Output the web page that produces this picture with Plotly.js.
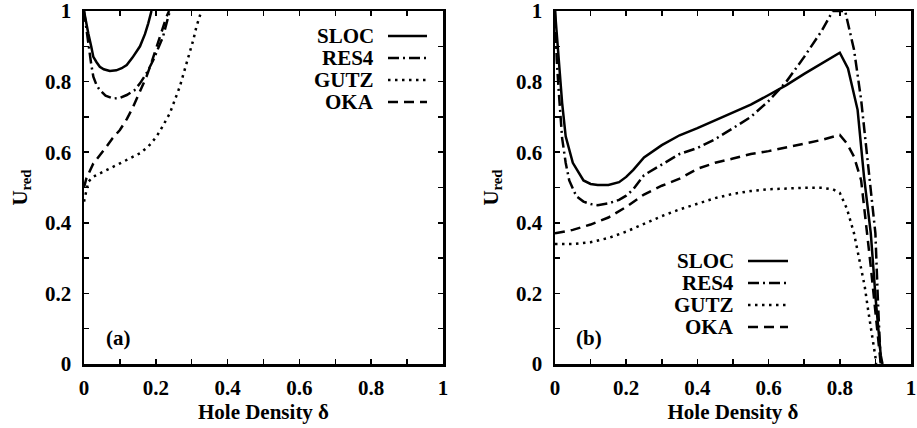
<!DOCTYPE html>
<html>
<head>
<meta charset="utf-8">
<script src="https://cdn.plot.ly/plotly-3.0.1.min.js"></script>
<style>html,body{margin:0;padding:0;background:#fff;}#chart{width:917px;height:428px;}</style>
</head>
<body>
<div id="chart"></div>
<script>
// ---- Panel (a) data ----
const slocA_x = [0, 0.005, 0.012, 0.02, 0.026, 0.035, 0.044, 0.055, 0.072, 0.09, 0.105, 0.119, 0.135, 0.156, 0.17, 0.179, 0.188];
const slocA_y = [1, 0.97, 0.936, 0.9, 0.87, 0.855, 0.842, 0.835, 0.83, 0.832, 0.838, 0.847, 0.868, 0.9, 0.935, 0.965, 1];
const res4A_x = [0, 0.006, 0.012, 0.02, 0.026, 0.035, 0.044, 0.06, 0.081, 0.1, 0.119, 0.14, 0.156, 0.175, 0.193, 0.21, 0.22, 0.239];
const res4A_y = [1, 0.95, 0.908, 0.85, 0.814, 0.79, 0.776, 0.76, 0.752, 0.754, 0.762, 0.775, 0.795, 0.825, 0.861, 0.9, 0.927, 1];
const gutzA_x = [0, 0.012, 0.025, 0.044, 0.07, 0.1, 0.13, 0.156, 0.18, 0.202, 0.22, 0.239, 0.253, 0.267, 0.28, 0.294, 0.305, 0.313, 0.327];
const gutzA_y = [0.46, 0.516, 0.53, 0.54, 0.553, 0.568, 0.583, 0.597, 0.617, 0.644, 0.675, 0.71, 0.748, 0.786, 0.832, 0.88, 0.92, 0.955, 1];
const okaA_x = [0, 0.007, 0.026, 0.045, 0.063, 0.08, 0.1, 0.12, 0.137, 0.155, 0.174, 0.19, 0.202, 0.215, 0.23, 0.237];
const okaA_y = [0.5, 0.527, 0.568, 0.592, 0.616, 0.64, 0.663, 0.695, 0.729, 0.77, 0.814, 0.86, 0.899, 0.94, 0.984, 1];

// ---- Panel (b) data ----
const slocB_x = [0, 0.01, 0.02, 0.03, 0.05, 0.08, 0.1, 0.12, 0.15, 0.18, 0.2, 0.22, 0.25, 0.3, 0.35, 0.4, 0.45, 0.5, 0.55, 0.6, 0.65, 0.7, 0.75, 0.8, 0.823, 0.85, 0.868, 0.887, 0.901, 0.915, 0.92];
const slocB_y = [1, 0.87, 0.74, 0.645, 0.57, 0.52, 0.51, 0.507, 0.507, 0.515, 0.53, 0.55, 0.585, 0.62, 0.648, 0.668, 0.69, 0.712, 0.735, 0.762, 0.79, 0.822, 0.853, 0.882, 0.837, 0.72, 0.531, 0.371, 0.181, 0.025, 0];
const res4B_x = [0, 0.005, 0.01, 0.014, 0.02, 0.03, 0.04, 0.06, 0.08, 0.1, 0.12, 0.15, 0.18, 0.2, 0.22, 0.25, 0.3, 0.35, 0.4, 0.45, 0.5, 0.55, 0.6, 0.65, 0.7, 0.75, 0.78, 0.8, 0.815, 0.84, 0.86, 0.88, 0.9, 0.907, 0.915];
const res4B_y = [1, 0.86, 0.78, 0.72, 0.64, 0.57, 0.52, 0.475, 0.46, 0.453, 0.45, 0.455, 0.465, 0.477, 0.495, 0.535, 0.565, 0.595, 0.612, 0.637, 0.668, 0.7, 0.745, 0.8, 0.87, 0.945, 1, 1, 1, 0.89, 0.748, 0.559, 0.37, 0.181, 0];
const gutzB_x = [0, 0.05, 0.1, 0.15, 0.2, 0.25, 0.3, 0.35, 0.4, 0.45, 0.5, 0.55, 0.6, 0.65, 0.7, 0.75, 0.78, 0.8, 0.82, 0.84, 0.86, 0.87, 0.88, 0.89, 0.9, 0.902];
const gutzB_y = [0.34, 0.34, 0.345, 0.357, 0.375, 0.398, 0.419, 0.438, 0.455, 0.47, 0.482, 0.49, 0.495, 0.498, 0.499, 0.499, 0.495, 0.485, 0.44, 0.37, 0.27, 0.22, 0.15, 0.09, 0.02, 0];
const okaB_x = [0, 0.05, 0.1, 0.15, 0.2, 0.25, 0.3, 0.35, 0.4, 0.45, 0.5, 0.55, 0.6, 0.65, 0.7, 0.75, 0.8, 0.82, 0.84, 0.86, 0.887, 0.906, 0.915];
const okaB_y = [0.37, 0.38, 0.395, 0.415, 0.445, 0.48, 0.505, 0.525, 0.553, 0.57, 0.582, 0.595, 0.603, 0.613, 0.623, 0.635, 0.649, 0.625, 0.587, 0.52, 0.276, 0.087, 0];

// ---- labels ----
const seriesNames = ['SLOC', 'RES4', 'GUTZ', 'OKA'];
const tickVals = [0, 0.2, 0.4, 0.6, 0.8, 1];
const tickText = ['0', '0.2', '0.4', '0.6', '0.8', '1'];
const minorTickVals = [0.1, 0.3, 0.5, 0.7, 0.9];
const xTitle = 'Hole Density δ';
const yTitle = 'U<sub>red</sub>';
const panelLabels = ['(a)', '(b)'];

const W = 917, H = 428;
const dashes = ['solid', '11px,4px,2px,4px', '2.5px,4.5px', '10px,6px'];
const FONT = {family: 'Liberation Serif', size: 21, color: '#000', weight: 700};

function tr(x, y, i, xa, ya) {
  return {x: x, y: y, xaxis: xa, yaxis: ya, type: 'scatter', mode: 'lines', name: seriesNames[i],
    showlegend: false, line: {color: '#000', width: 2.5, dash: dashes[i]}, hoverinfo: 'skip'};
}
const data = [
  tr(slocA_x, slocA_y, 0, 'x', 'y'), tr(res4A_x, res4A_y, 1, 'x', 'y'),
  tr(gutzA_x, gutzA_y, 2, 'x', 'y'), tr(okaA_x, okaA_y, 3, 'x', 'y'),
  tr(slocB_x, slocB_y, 0, 'x2', 'y2'), tr(res4B_x, res4B_y, 1, 'x2', 'y2'),
  tr(gutzB_x, gutzB_y, 2, 'x2', 'y2'), tr(okaB_x, okaB_y, 3, 'x2', 'y2')
];

function axis(dom, isX, anchor) {
  return {domain: dom, range: [0, 1], anchor: anchor, tickmode: 'array', tickvals: tickVals, ticktext: tickText,
    ticks: 'inside', ticklen: 5, tickwidth: 1.5, tickcolor: '#000',
    minor: {tickmode: 'array', tickvals: minorTickVals, ticks: 'inside', ticklen: 5, tickwidth: 1.5, tickcolor: '#000', showgrid: false},
    showline: true, linewidth: 2.5, linecolor: '#000', mirror: 'ticks',
    showgrid: false, zeroline: false, fixedrange: true, ticklabeloverflow: 'allow',
    tickfont: FONT, ticklabelstandoff: isX ? 3 : 6,
    title: {text: isX ? xTitle : yTitle, font: FONT, standoff: isX ? 0 : 12}};
}
const yDom = [1 - 364 / H, 1 - 11 / H];
const layout = {
  width: W, height: H, margin: {l: 0, r: 0, t: 0, b: 0},
  paper_bgcolor: '#fff', plot_bgcolor: '#fff', showlegend: false,
  xaxis: axis([84 / W, 443 / W], true, 'y'),
  yaxis: axis(yDom, false, 'x'),
  xaxis2: axis([555 / W, 911 / W], true, 'y2'),
  yaxis2: axis(yDom, false, 'x2'),
  annotations: [], shapes: []
};
layout.annotations.push({xref: 'x', yref: 'y', x: 0.095, y: 0.075, text: panelLabels[0], showarrow: false, font: FONT});
layout.annotations.push({xref: 'x2', yref: 'y2', x: 0.095, y: 0.075, text: panelLabels[1], showarrow: false, font: FONT});

// legends (text left of line sample, like the original)
const legendSpecs = [
  {textRight: 375, lineL: 388, lineR: 427, rows: [36, 58, 80, 102]},
  {textRight: 735, lineL: 748, lineR: 788, rows: [261, 283, 305, 327]}
];
legendSpecs.forEach(function (s) {
  seriesNames.forEach(function (n, i) {
    const yp = 1 - s.rows[i] / H;
    layout.annotations.push({xref: 'paper', yref: 'paper', x: s.textRight / W, y: yp, xanchor: 'right', yanchor: 'middle',
      text: n, showarrow: false, font: FONT, borderpad: 0});
    layout.shapes.push({type: 'line', xref: 'paper', yref: 'paper', x0: s.lineL / W, x1: s.lineR / W, y0: yp, y1: yp,
      line: {color: '#000', width: 2.5, dash: dashes[i]}});
  });
});

Plotly.newPlot('chart', data, layout, {displayModeBar: false, staticPlot: true});
</script>
</body>
</html>
